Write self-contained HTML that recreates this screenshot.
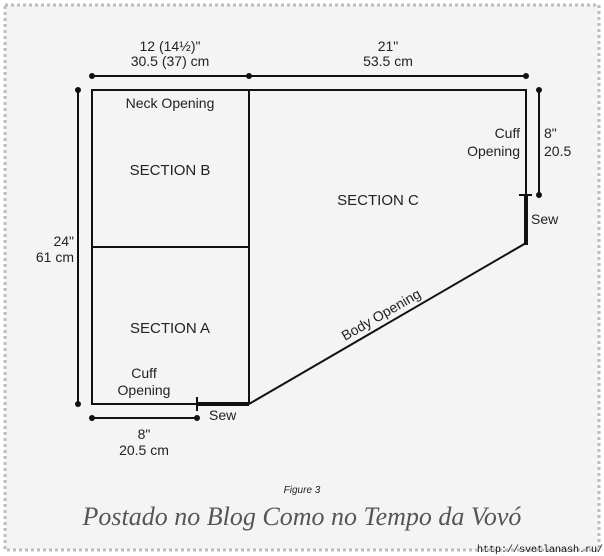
<!DOCTYPE html>
<html><head><style>
body{margin:0;background:#fff;width:604px;height:556px;overflow:hidden}
svg{display:block}
.t{font-family:"Liberation Sans",sans-serif;fill:#222;font-size:14px}
</style></head><body>
<svg width="604" height="556" viewBox="0 0 604 556">
<rect x="5" y="5" width="594" height="545" fill="#f4f4f4" stroke="#bdbdbd" stroke-width="3" stroke-dasharray="3 3"/>
<g stroke="#111" stroke-width="2" fill="none">
<path d="M92 90 H526 V243 L249 404 H92 Z"/>
<line x1="249" y1="90" x2="249" y2="404"/>
<line x1="92" y1="247" x2="249" y2="247"/>
<line x1="92" y1="76" x2="526" y2="76"/>
<line x1="78" y1="90" x2="78" y2="404"/>
<line x1="539" y1="90" x2="539" y2="195"/>
<line x1="92" y1="418" x2="197" y2="418"/>
<line x1="197" y1="397" x2="197" y2="411"/>
<line x1="519" y1="195" x2="532" y2="195"/>
</g>
<g stroke="#111" stroke-width="4">
<line x1="197" y1="404" x2="249" y2="404"/>
<line x1="526" y1="195" x2="526" y2="245"/>
</g>
<g fill="#111">
<circle cx="92" cy="76" r="3"/><circle cx="249" cy="76" r="3"/><circle cx="526" cy="76" r="3"/>
<circle cx="78" cy="90" r="3"/><circle cx="78" cy="404" r="3"/>
<circle cx="539" cy="90" r="3"/><circle cx="539" cy="195" r="3"/>
<circle cx="92" cy="418" r="3"/><circle cx="197" cy="418" r="3"/>
</g>
<g text-anchor="middle" class="t">
<text class="t" x="170" y="51">12 (14½)"</text>
<text class="t" x="170" y="66">30.5 (37) cm</text>
<text class="t" x="388" y="51">21"</text>
<text class="t" x="388" y="66">53.5 cm</text>
<text class="t" x="170" y="108">Neck Opening</text>
<text class="t" x="170" y="175" style="font-size:15px">SECTION B</text>
<text class="t" x="170" y="333" style="font-size:15px">SECTION A</text>
<text class="t" x="378" y="205" style="font-size:15px">SECTION C</text>
<text class="t" x="144" y="378">Cuff</text>
<text class="t" x="144" y="395">Opening</text>
<text class="t" x="144" y="439">8"</text>
<text class="t" x="144" y="455">20.5 cm</text>
</g>
<text class="t" x="74" y="246" text-anchor="end">24"</text>
<text class="t" x="74" y="262" text-anchor="end">61 cm</text>
<text x="302" y="493" text-anchor="middle" style="font-family:'Liberation Sans',sans-serif;font-size:10px;font-style:italic;fill:#222">Figure 3</text>
<text x="302" y="525" text-anchor="middle" style="font-family:'Liberation Serif',serif;font-size:26px;font-style:italic;fill:#555">Postado no Blog Como no Tempo da Vovó</text>
<text class="t" x="520" y="138" text-anchor="end">Cuff</text>
<text class="t" x="520" y="156" text-anchor="end">Opening</text>
<text class="t" x="544" y="138">8"</text>
<text class="t" x="544" y="156">20.5</text>
<text class="t" x="531" y="224">Sew</text>
<text class="t" x="209" y="420">Sew</text>
<text class="t" transform="translate(345,341) rotate(-30)">Body Opening</text>
<text x="603" y="552" text-anchor="end" style="font-family:'Liberation Mono',monospace;font-size:10px;fill:#111">http://svetlanash.ru/</text>
</svg>
</body></html>
